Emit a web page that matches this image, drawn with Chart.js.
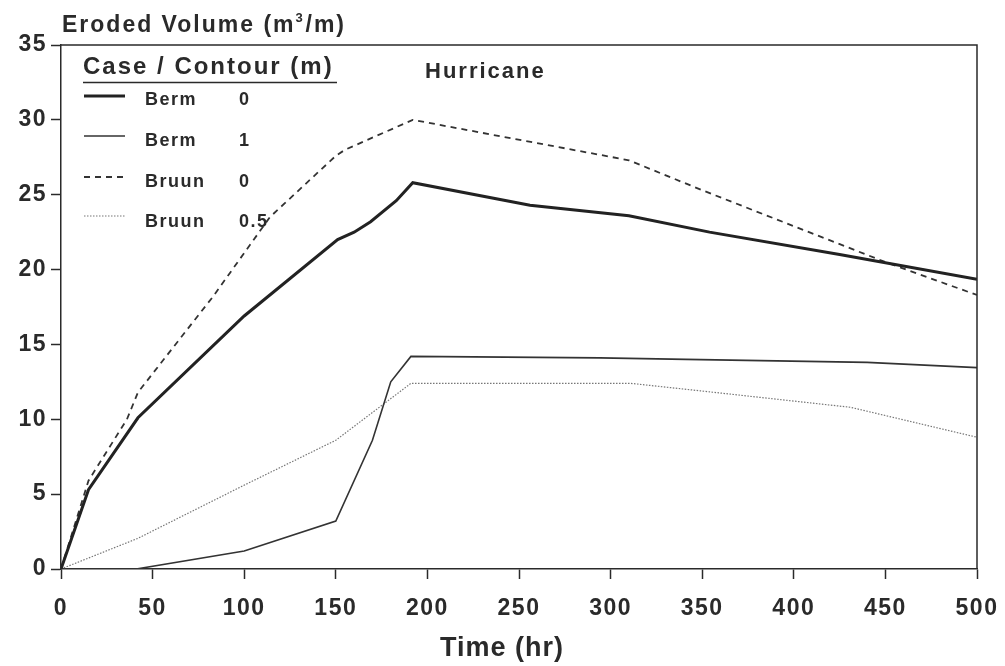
<!DOCTYPE html>
<html>
<head>
<meta charset="utf-8">
<script src="https://cdn.jsdelivr.net/npm/chart.js@4.4.0/dist/chart.umd.min.js"></script>
<style>
  html, body { margin: 0; padding: 0; background: #fff; }
  #wrap { width: 1005px; height: 666px; }
</style>
</head>
<body>
<div id="wrap"><canvas id="erosionChart" width="1005" height="666"></canvas></div>
<script>
// Data (time in hr, eroded volume in m3/m)
const berm0Time = [0, 15, 42, 100, 151, 160, 169, 183, 192, 256, 310, 354, 425, 500];
const berm0Vol  = [0, 5.3, 10.1, 16.9, 22.0, 22.5, 23.2, 24.6, 25.8, 24.3, 23.6, 22.5, 21.0, 19.35];

const berm1Time = [0, 41, 100, 150, 170, 180, 191, 294, 341, 440, 500];
const berm1Vol  = [0, 0, 1.2, 3.2, 8.6, 12.5, 14.2, 14.1, 14.0, 13.8, 13.45];

const bruun0Time = [0, 15, 36, 42, 83, 114, 150, 155, 192, 310, 350, 400, 450, 500];
const bruun0Vol  = [0, 5.9, 10.0, 11.8, 18.2, 23.5, 27.6, 28.0, 30.0, 27.3, 25.3, 22.9, 20.5, 18.3];

const bruun05Time = [0, 42, 100, 150, 191, 311, 349, 431, 500];
const bruun05Vol  = [0, 2.05, 5.6, 8.6, 12.4, 12.4, 11.9, 10.8, 8.8];

const caseNames = ['Berm', 'Berm', 'Bruun', 'Bruun'];
const contours  = ['0', '1', '0', '0.5'];

const xTicks = [0, 50, 100, 150, 200, 250, 300, 350, 400, 450, 500];
const yTicks = [0, 5, 10, 15, 20, 25, 30, 35];

const FONT = "'Liberation Sans', Arial, sans-serif";
const INK = '#2a2a2a';

function toPoints(xs, ys) {
    return xs.map((x, i) => ({ x: x, y: ys[i] }));
}

// the old plotter font is wide, so open up the letters a bit
const spacingPlugin = {
    id: 'spacing',
    beforeUpdate(chart) { chart.ctx.letterSpacing = '1.5px'; },
    beforeDraw(chart) { chart.ctx.letterSpacing = '1.5px'; }
};

// Frame, titles and the legend
const decorPlugin = {
    id: 'decor',
    afterDraw(chart) {
        const ctx = chart.ctx;
        const a = chart.chartArea;
        ctx.save();
        ctx.strokeStyle = INK;
        ctx.lineWidth = 1.5;
        ctx.beginPath();
        ctx.moveTo(a.left, a.top);
        ctx.lineTo(a.right, a.top);
        ctx.lineTo(a.right, a.bottom);
        ctx.stroke();

        ctx.fillStyle = INK;
        ctx.textBaseline = 'alphabetic';
        ctx.textAlign = 'left';
        ctx.letterSpacing = '2px';

        // y axis title
        ctx.font = 'bold 23px ' + FONT;
        ctx.fillText('Eroded Volume (m', 62, 32);
        let w = ctx.measureText('Eroded Volume (m').width;
        ctx.font = 'bold 13px ' + FONT;
        ctx.fillText('3', 62 + w, 22);
        ctx.font = 'bold 23px ' + FONT;
        ctx.fillText('/m)', 62 + w + 10, 32);

        // x axis title
        ctx.letterSpacing = '1px';
        ctx.font = 'bold 27px ' + FONT;
        ctx.fillText('Time (hr)', 440, 656);
        ctx.letterSpacing = '2px';

        // panel label
        ctx.font = 'bold 22px ' + FONT;
        ctx.fillText('Hurricane', 425, 78);

        // legend header
        ctx.font = 'bold 24px ' + FONT;
        ctx.fillText('Case / Contour (m)', 83, 74);
        ctx.lineWidth = 1.5;
        ctx.beginPath();
        ctx.moveTo(83, 82.5);
        ctx.lineTo(337, 82.5);
        ctx.stroke();

        // legend rows
        const lineY = [96, 136, 177, 216];
        const textY = [105, 146, 187, 227];
        chart.data.datasets.forEach((ds, i) => {
            ctx.save();
            ctx.strokeStyle = ds.borderColor;
            ctx.lineWidth = ds.borderWidth;
            ctx.setLineDash(ds.borderDash || []);
            ctx.beginPath();
            ctx.moveTo(84, lineY[i]);
            ctx.lineTo(125, lineY[i]);
            ctx.stroke();
            ctx.restore();
            ctx.font = 'bold 18px ' + FONT;
            ctx.letterSpacing = '1.5px';
            ctx.fillText(caseNames[i], 145, textY[i]);
            ctx.fillText(contours[i], 239, textY[i]);
        });
        ctx.restore();
    }
};

new Chart(document.getElementById('erosionChart'), {
    type: 'line',
    data: {
        datasets: [
            {
                label: 'Berm 0',
                data: toPoints(berm0Time, berm0Vol),
                borderColor: '#222',
                borderWidth: 3,
                pointRadius: 0
            },
            {
                label: 'Berm 1',
                data: toPoints(berm1Time, berm1Vol),
                borderColor: '#333',
                borderWidth: 1.6,
                pointRadius: 0
            },
            {
                label: 'Bruun 0',
                data: toPoints(bruun0Time, bruun0Vol),
                borderColor: '#333',
                borderWidth: 1.8,
                borderDash: [6, 5],
                pointRadius: 0
            },
            {
                label: 'Bruun 0.5',
                data: toPoints(bruun05Time, bruun05Vol),
                borderColor: '#777',
                borderWidth: 1.2,
                borderDash: [1.5, 1.5],
                pointRadius: 0
            }
        ]
    },
    options: {
        responsive: false,
        animation: false,
        layout: { padding: { left: 0, right: 28, top: 45, bottom: 0 } },
        plugins: {
            legend: { display: false },
            tooltip: { enabled: false }
        },
        scales: {
            x: {
                type: 'linear',
                min: 0,
                max: 500,
                afterBuildTicks: axis => { axis.ticks = xTicks.map(v => ({ value: v })); },
                afterFit: axis => {
                    axis.height = 97;
                    axis.paddingLeft = 0;
                    axis.paddingRight = 0;
                },
                border: { color: INK, width: 1.5 },
                grid: { drawOnChartArea: false, drawTicks: true, tickLength: 10, tickColor: INK, tickWidth: 1.5 },
                ticks: { color: INK, font: { family: FONT, size: 23, weight: 'bold' }, padding: 16, maxRotation: 0 }
            },
            y: {
                min: 0,
                max: 35,
                afterBuildTicks: axis => { axis.ticks = yTicks.map(v => ({ value: v })); },
                afterFit: axis => {
                    axis.width = 61;
                    axis.paddingTop = 0;
                    axis.paddingBottom = 0;
                },
                border: { color: INK, width: 1.5 },
                grid: { drawOnChartArea: false, drawTicks: true, tickLength: 10, tickColor: INK, tickWidth: 1.5 },
                ticks: { color: INK, font: { family: FONT, size: 23, weight: 'bold' }, padding: 4 }
            }
        }
    },
    plugins: [spacingPlugin, decorPlugin]
});
</script>
</body>
</html>
